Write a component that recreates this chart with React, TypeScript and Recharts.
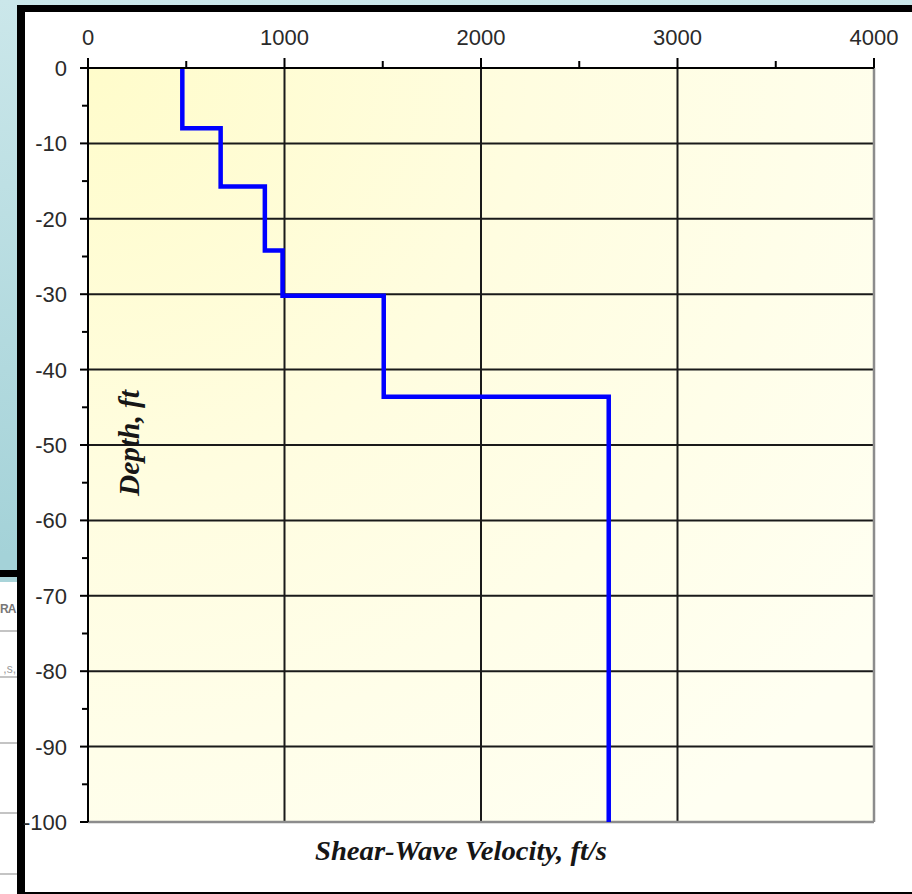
import React from "react"
import { ComposedChart, Line, XAxis, YAxis, ReferenceLine, ReferenceArea } from "recharts"

// shear-wave velocity layers (ft/s) and their depth limits (ft, negative down)
const layerTop = [0, -8, -15.7, -24.2, -30.2, -43.6]
const layerBottom = [-8, -15.7, -24.2, -30.2, -43.6, -100]
const layerVs = [480, 675, 900, 990, 1505, 2650]

const xTicks = [0, 500, 1000, 1500, 2000, 2500, 3000, 3500, 4000]
const yTicks = [0, -5, -10, -15, -20, -25, -30, -35, -40, -45, -50, -55, -60, -65, -70, -75, -80, -85, -90, -95, -100]
const xGrid = [1000, 2000, 3000]
const yGrid = [-10, -20, -30, -40, -50, -60, -70, -80, -90]

// step profile: each layer contributes its top and bottom point
const profile = layerVs.flatMap((vs, i) => [
  { vs, depth: layerTop[i] },
  { vs, depth: layerBottom[i] },
])

const tickFont = "'Liberation Sans', Arial, sans-serif"

function XTick(props: any) {
  const { x, y, payload } = props
  const major = payload.value % 1000 === 0
  return (
    <g>
      <line x1={x} x2={x} y1={y} y2={y - (major ? 10 : 7)} stroke="#000" strokeWidth={2} />
      {major && (
        <text x={x} y={y - 23} textAnchor="middle" fontSize={22} fontFamily={tickFont} fill="#2a2a2a">
          {payload.value}
        </text>
      )}
    </g>
  )
}

function YTick(props: any) {
  const { x, y, payload } = props
  const major = payload.value % 10 === 0
  return (
    <g>
      <line x1={x} x2={x - (major ? 8 : 6)} y1={y} y2={y} stroke="#000" strokeWidth={2} />
      {major && (
        <text x={x - 21} y={y} dy="0.36em" textAnchor="end" fontSize={22} fontFamily={tickFont} fill="#2a2a2a">
          {payload.value}
        </text>
      )}
    </g>
  )
}

const tableLines = [630, 676, 742, 812, 873]

export default function App() {
  return (
    <div
      style={{
        position: "absolute",
        left: 0,
        top: 0,
        width: 912,
        height: 894,
        overflow: "hidden",
        background: "linear-gradient(180deg, #cbe7ea 0%, #a4d2d8 62%, #a4d2d8 100%)",
      }}
    >
      {/* window frame */}
      <div style={{ position: "absolute", left: 17, top: 5, width: 895, height: 889, background: "#000" }} />
      <div style={{ position: "absolute", left: 25, top: 12, width: 887, height: 880, background: "#fff" }} />

      {/* table peeking out behind the frame */}
      <div style={{ position: "absolute", left: 0, top: 570, width: 17, height: 7, background: "#000" }} />
      <div style={{ position: "absolute", left: 0, top: 577, width: 17, height: 5, background: "#a9d4d9" }} />
      <div
        style={{ position: "absolute", left: 0, top: 582, width: 17, height: 312, background: "#fff", overflow: "hidden" }}
      >
        <span
          style={{
            position: "absolute",
            left: 0,
            top: 20,
            fontFamily: tickFont,
            fontWeight: "bold",
            fontSize: 12,
            letterSpacing: -1,
            color: "#777",
          }}
        >
          RA
        </span>
        <span style={{ position: "absolute", right: 1, top: 80, fontFamily: tickFont, fontSize: 12, color: "#999" }}>
          ,s,
        </span>
        {tableLines.map((t) => (
          <div key={t} style={{ position: "absolute", left: 0, top: t - 582, width: 17, height: 2, background: "#c4c4c4" }} />
        ))}
      </div>

      <div style={{ position: "absolute", left: 0, top: 0 }}>
        <ComposedChart width={912} height={894} data={profile} margin={{ top: 38, right: 38, bottom: 72, left: 28 }}>
          <defs>
            <radialGradient id="plotBg" cx="0" cy="0" r="1.25">
              <stop offset="0%" stopColor="#fffccb" />
              <stop offset="45%" stopColor="#fffde0" />
              <stop offset="100%" stopColor="#fffff2" />
            </radialGradient>
          </defs>
          <ReferenceArea x1={0} x2={4000} y1={-100} y2={0} fill="url(#plotBg)" fillOpacity={1} stroke="none" />
          {xGrid.map((v) => (
            <ReferenceLine key={`x${v}`} x={v} stroke="#1a1a1a" strokeWidth={2} />
          ))}
          {yGrid.map((v) => (
            <ReferenceLine key={`y${v}`} y={v} stroke="#1a1a1a" strokeWidth={2} />
          ))}
          <ReferenceLine x={4000} stroke="#8c8c8c" strokeWidth={2.5} />
          <ReferenceLine y={-100} stroke="#8c8c8c" strokeWidth={2.5} />
          <XAxis
            type="number"
            dataKey="vs"
            orientation="top"
            domain={[0, 4000]}
            ticks={xTicks}
            interval={0}
            height={30}
            tickSize={0}
            tickMargin={0}
            tickLine={false}
            axisLine={{ stroke: "#000", strokeWidth: 2 }}
            tick={<XTick />}
          />
          <YAxis
            type="number"
            dataKey="depth"
            domain={[-100, 0]}
            ticks={yTicks}
            interval={0}
            width={60}
            tickSize={0}
            tickMargin={0}
            tickLine={false}
            axisLine={{ stroke: "#000", strokeWidth: 2 }}
            tick={<YTick />}
          />
          <Line
            type="linear"
            dataKey="depth"
            stroke="#0000ff"
            strokeWidth={4.5}
            strokeLinejoin="miter"
            dot={false}
            activeDot={false}
            isAnimationActive={false}
          />
        </ComposedChart>
      </div>

      {/* axis titles */}
      <svg width={912} height={894} style={{ position: "absolute", left: 0, top: 0, pointerEvents: "none" }}>
        <text
          x={461}
          y={860}
          textAnchor="middle"
          fontFamily="'Liberation Serif', 'Times New Roman', serif"
          fontStyle="italic"
          fontWeight="bold"
          fontSize={28}
          textLength={292}
          lengthAdjust="spacingAndGlyphs"
          fill="#161616"
        >
          Shear-Wave  Velocity, ft/s
        </text>
        <text
          transform="translate(139, 443) rotate(-90)"
          textAnchor="middle"
          fontFamily="'Liberation Serif', 'Times New Roman', serif"
          fontStyle="italic"
          fontWeight="bold"
          fontSize={29}
          textLength={106}
          lengthAdjust="spacingAndGlyphs"
          fill="#161616"
        >
          Depth, ft
        </text>
      </svg>
    </div>
  )
}
